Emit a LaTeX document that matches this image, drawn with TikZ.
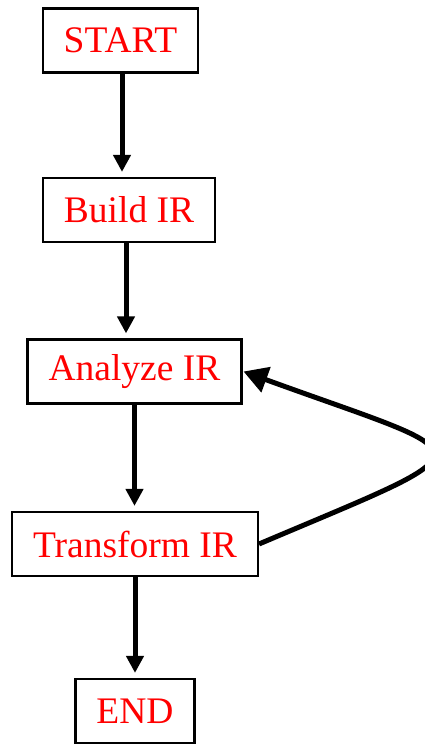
\documentclass[tikz,border=0pt]{standalone}
\usepackage{fontspec}
\setmainfont{Liberation Serif}
\usetikzlibrary{arrows.meta}

\begin{document}
\begin{tikzpicture}[
    x=1pt, y=-1pt,
    stage/.style={rectangle, draw=black, line width=2.2pt, fill=white,
        text=red, font=\fontsize{37.5}{42}\selectfont,
        inner xsep=21pt, minimum height=64pt},
    arrow/.style={-{Triangle[length=17pt,width=17pt]}, line width=5pt,
        shorten >=5pt}
]
    \useasboundingbox (0,0) rectangle (424,744);

    % --- Pipeline stages ---
    \node[stage] (start)     at (120.5, 40.5) {START};
    \node[stage] (build)     at (129, 210)    {Build IR};
    \node[stage] (analyze)   at (134.5, 371.5) {Analyze IR};
    \node[stage] (transform) at (135, 544)    {Transform IR};
    \node[stage] (finish)    at (135, 711)    {END};

    % --- Forward flow ---
    \draw[arrow] ([xshift=1.5pt]start.south) -- ([xshift=1.5pt]start.south |- build.north);
    \draw[arrow] ([xshift=-3pt]build.south) -- ([xshift=-3pt]build.south |- analyze.north);
    \draw[arrow] (analyze.south) -- (analyze.south |- transform.north);
    \draw[arrow] (transform.south) -- (transform.south |- finish.north);

    % --- Loop back from transform to analysis ---
    \draw[arrow, -{Triangle[length=24pt,width=26pt]}, shorten >=0pt]
        (transform.east)
        .. controls +(-23:258) and +(20:258) .. ([xshift=1pt]analyze.east);

\end{tikzpicture}
\end{document}
